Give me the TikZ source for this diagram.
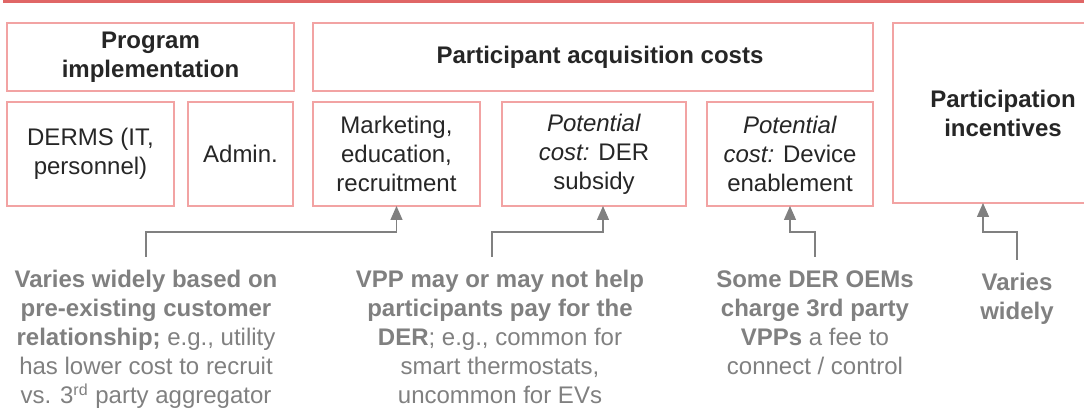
\documentclass[tikz,border=0pt]{standalone}
\usepackage{fontspec}
\setmainfont{Liberation Sans}
\usepackage{xcolor}
\usetikzlibrary{arrows.meta,positioning}
\definecolor{frame}{HTML}{F2A3A3}
\definecolor{topline}{HTML}{E06666}
\definecolor{note}{HTML}{808080}
\definecolor{ink}{HTML}{262626}

\begin{document}
\begin{tikzpicture}[x=0.5pt, y=-0.5pt,
    every node/.style={font=\fontsize{12}{14.5}\selectfont, align=center},
    box/.style={draw=frame, line width=1pt, text=ink, inner sep=2pt, outer sep=0pt},
    hdr/.style={box, font=\fontsize{12}{14.5}\selectfont\bfseries, minimum height=34pt},
    cell/.style={box, minimum height=52pt},
    lbl/.style={text=note, inner sep=6.5pt, anchor=north},
    arr/.style={-{Triangle[length=7pt, width=6pt]}, line width=0.7pt, note},
  ]
  \path[use as bounding box] (0,0) rectangle (1084,417);
  \clip (0,0) rectangle (1084,417);

  \draw[topline, line width=1.5pt] (3,2) -- (1084,2);

  \node[hdr, minimum width=143.5pt, anchor=north west] (prog) at (7,23) {Program\\implementation};
  \node[hdr, minimum width=280pt, right=9.5pt of prog] (pac) {\hspace*{7pt}Participant acquisition costs};
  \node[hdr, minimum width=110pt, minimum height=90pt, anchor=north west] (inc) at (893,23) {Participation\\incentives};

  \node[cell, minimum width=83.5pt, below right=5.5pt and 0pt of prog.south west] (derms) {DERMS (IT,\\personnel)};
  \node[cell, minimum width=52.5pt, right=7pt of derms] (admin) {Admin.};
  \node[cell, minimum width=83.5pt, right=10pt of admin] (mkt) {Marketing,\\education,\\recruitment};
  \node[cell, minimum width=92pt, right=11pt of mkt] (sub) {\textit{Potential}\\\textit{cost:} DER\\subsidy};
  \node[cell, minimum width=83pt, right=10.5pt of sub] (dev) {\textit{Potential}\\\textit{cost:} Device\\enablement};

  \node[lbl] (lab1) at (146,257) {\textbf{Varies widely based on}\\\textbf{pre-existing customer}\\\textbf{relationship;} e.g., utility\\has lower cost to recruit\\vs. 3\textsuperscript{rd} party aggregator};
  \node[lbl] (lab2) at (500,257) {\textbf{VPP may or may not help}\\\textbf{participants pay for the}\\\textbf{DER}; e.g., common for\\smart thermostats,\\uncommon for EVs};
  \node[lbl] (lab3) at (815,257) {\textbf{Some DER OEMs}\\\textbf{charge 3rd party}\\\textbf{VPPs} a fee to\\connect / control};
  \node[lbl] (lab4) at (1017,260) {\textbf{Varies}\\\textbf{widely}};

  \draw[arr] (lab1.north) -- ++(0,-25) -| (mkt.south);
  \draw[arr] ([xshift=-4pt]lab2.north) -- ++(0,-25) -| ([xshift=4.5pt]sub.south);
  \draw[arr] (lab3.north) -- ++(0,-25) -| (dev.south);
  \draw[arr] (lab4.north) -- ++(0,-28) -| ([xshift=-10pt]inc.south);
\end{tikzpicture}
\end{document}
